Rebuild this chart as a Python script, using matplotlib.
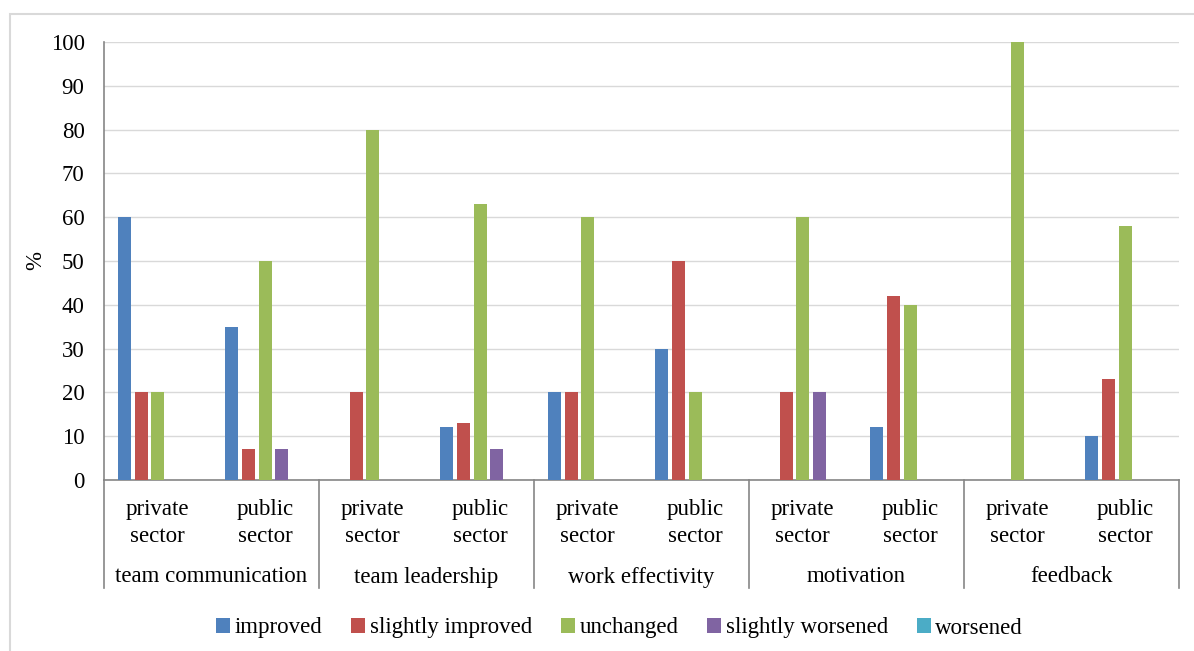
import numpy as np
import matplotlib.pyplot as plt
import matplotlib.transforms as mtransforms
from matplotlib.patches import Rectangle

plt.rcParams['font.family'] = ['Liberation Serif', 'DejaVu Serif']

# Categories (two-level axis)
topics = ['team communication', 'team leadership', 'work effectivity', 'motivation', 'feedback']
sectors = ['private\nsector', 'public\nsector']

series = ['improved', 'slightly improved', 'unchanged', 'slightly worsened', 'worsened']
colors = ['#4F81BD', '#C0504D', '#9BBB59', '#8064A2', '#4BACC6']

# values per series, order: topic x (private, public)
improved          = [60, 35, 0, 12, 20, 30, 0, 12, 0, 10]
slightly_improved = [20, 7, 20, 13, 20, 50, 20, 42, 0, 23]
unchanged         = [20, 50, 80, 63, 60, 20, 60, 40, 100, 58]
slightly_worsened = [0, 7, 0, 7, 0, 0, 20, 0, 0, 0]
worsened          = [0, 0, 0, 0, 0, 0, 0, 0, 0, 0]
values = [improved, slightly_improved, unchanged, slightly_worsened, worsened]

fs = 16.5

fig = plt.figure(figsize=(11.94, 6.51), dpi=100)
ax = fig.add_axes([104/1194, 1 - 480/651, 1075/1194, 438/651])

# light outer frame like the Excel chart area
fig.patches.append(Rectangle((10/1194, -0.05), 1.2, 1 - 14/651 + 0.05, transform=fig.transFigure,
                             fill=False, edgecolor='#D9D9D9', linewidth=1.5, zorder=0))

n = len(topics) * len(sectors)
x = np.arange(n)
pitch = 0.155
width = 0.121
for i, (name, vals) in enumerate(zip(series, values)):
    ax.bar(x + (i - 2) * pitch, vals, width, color=colors[i], label=name, zorder=3)

ax.set_xlim(-0.5, n - 0.5)
ax.set_ylim(0, 100)
ax.set_yticks(range(0, 101, 10))
ax.tick_params(axis='y', length=0, labelsize=fs, pad=14)
ax.set_xticks([])
ax.grid(axis='y', color='#D9D9D9', linewidth=1, zorder=0)
for s in ['top', 'right']:
    ax.spines[s].set_visible(False)
ax.spines['left'].set_color('#868686')
ax.spines['bottom'].set_color('#868686')
ax.spines['left'].set_linewidth(1.2)
ax.spines['bottom'].set_linewidth(1.2)

ax.set_ylabel('%', fontsize=fs, labelpad=3)

# two-level category labels
trans = mtransforms.blended_transform_factory(ax.transData, ax.transAxes)
sep_depth = -108 / 438
for k in range(len(topics) + 1):
    ax.plot([k * 2 - 0.5, k * 2 - 0.5], [0, sep_depth], transform=trans, color='#868686',
            linewidth=1.2, clip_on=False)
for k, topic in enumerate(topics):
    for j, sec in enumerate(sectors):
        ax.text(k * 2 + j, -43 / 438, sec, transform=trans, ha='center', va='center',
                fontsize=fs, linespacing=1.4)
    ax.text(k * 2 + 0.5, -97 / 438, topic, transform=trans, ha='center', va='center', fontsize=fs)

fig.legend(loc='center', bbox_to_anchor=(0.519, 1 - 628/651), ncol=5, frameon=False,
           fontsize=fs, handlelength=0.6, handleheight=0.6, handletextpad=0.2,
           columnspacing=1.27)

fig.savefig('out.png', dpi=100)
